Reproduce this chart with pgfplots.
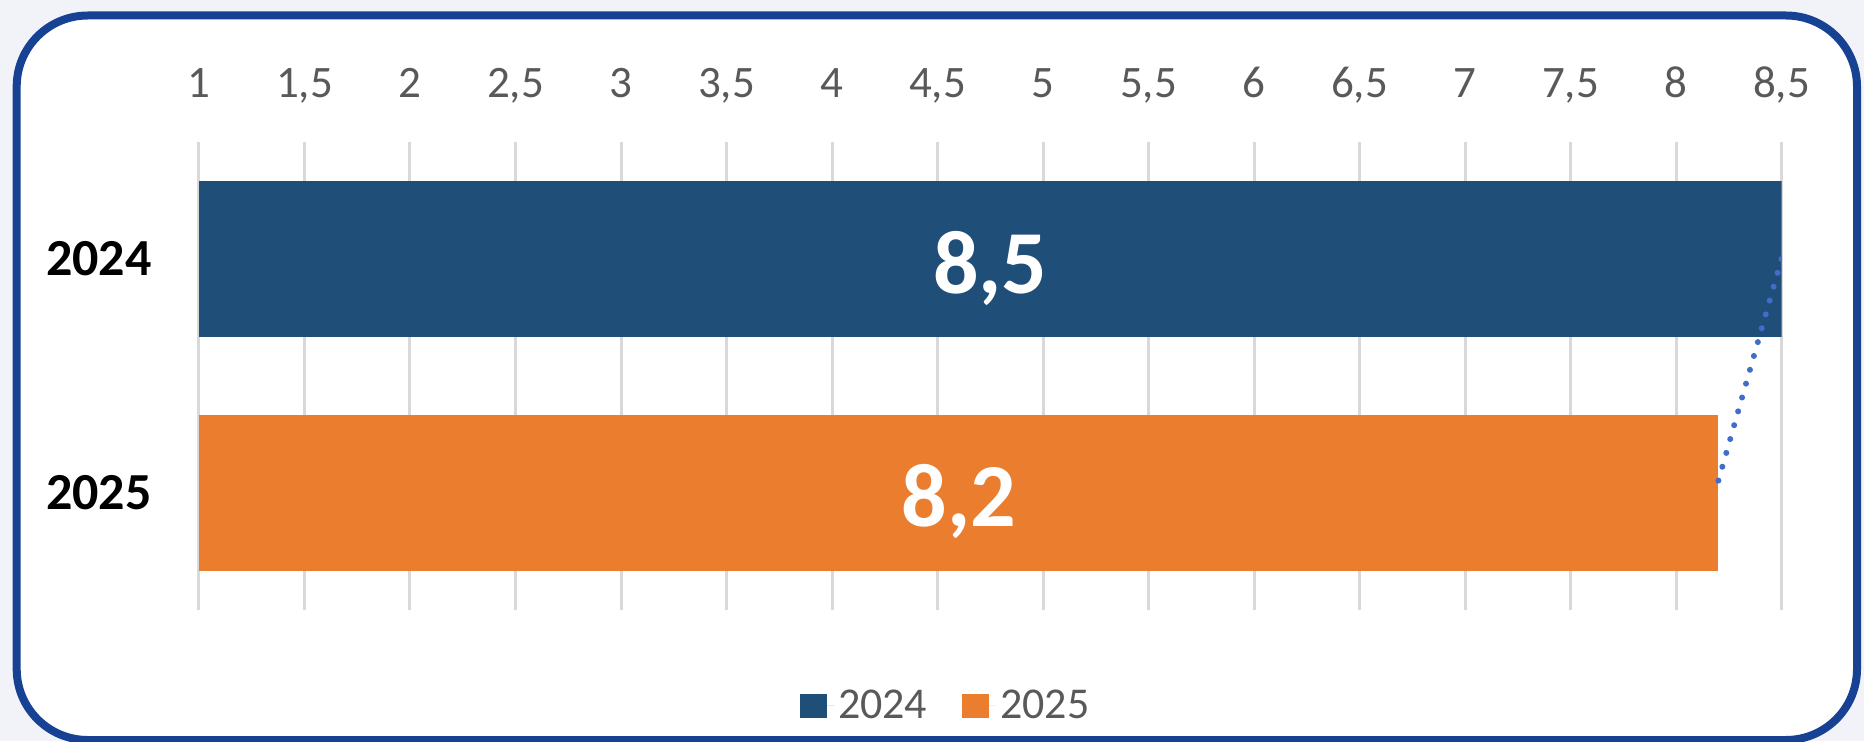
\documentclass[border=0pt]{standalone}
\usepackage{fontspec}
\setmainfont{Carlito}
\usepackage{pgfplots}
\pgfplotsset{compat=1.18}
\definecolor{bgout}{RGB}{242,243,248}
\definecolor{framec}{RGB}{23,66,147}
\definecolor{bar24}{RGB}{31,78,121}
\definecolor{bar25}{RGB}{235,125,47}
\definecolor{gridc}{RGB}{217,217,217}
\definecolor{tickc}{RGB}{89,89,89}
\definecolor{trend}{RGB}{62,110,200}
\begin{document}
\begin{tikzpicture}
\useasboundingbox (0,0) rectangle (932pt,370.5pt);
\fill[bgout] (0,0) rectangle (932pt,370.5pt);
\draw[framec, line width=4pt, fill=white, rounded corners=35.5pt] (8.35pt,0.5pt) rectangle (928.5pt,362.75pt);
\begin{axis}[
  at={(99.5pt,65.5pt)}, anchor=south west,
  scale only axis, width=791.25pt, height=234pt,
  xmin=1, xmax=8.5, ymin=-0.5, ymax=1.5,
  xtick={1,1.5,2,2.5,3,3.5,4,4.5,5,5.5,6,6.5,7,7.5,8,8.5},
  xticklabel pos=upper,
  ytick={0,1}, yticklabels={2025,2024},
  axis line style={draw=none},
  major tick length=0pt,
  xmajorgrids, grid style={gridc, line width=1.5pt},
  /pgf/number format/use comma,
  /pgf/number format/assume math mode=true,
  xticklabel style={font=\fontsize{22.5}{27}\selectfont, text=tickc, anchor=base, inner sep=0pt, yshift=22.5pt},
  yticklabel style={font=\fontsize{26}{31}\selectfont\bfseries, text=black, anchor=east, inner sep=0pt, xshift=-23.5pt},
  legend style={draw=none, fill=none, at={(0.4725,-0.205)}, anchor=center, legend columns=2,
    font=\fontsize{22}{26}\selectfont, text=tickc,
    /tikz/every even column/.append style={column sep=15.5pt}},
  legend image code/.code={\fill[#1] (0pt,-6pt) rectangle (13.5pt,6pt); \path (13.5pt,0pt) -- (17pt,0pt);},
  bar width=0.67, bar shift=0pt,
]
\addplot[xbar, fill=bar24, draw=none] coordinates {(8.5,1)};
\addplot[xbar, fill=bar25, draw=none] coordinates {(8.2,0)};
\addplot[trend, line width=3pt, line cap=round, dash pattern=on 0pt off 7.2pt, forget plot] coordinates {(8.5,1) (8.2,0.05)};
\legend{2024,2025}
\node[font=\fontsize{45}{54}\selectfont\bfseries, text=white, anchor=base, inner sep=0pt, yshift=-17pt] at (axis cs:4.75,1) {8,5};
\node[font=\fontsize{45}{54}\selectfont\bfseries, text=white, anchor=base, inner sep=0pt, yshift=-16.5pt] at (axis cs:4.6,0) {8,2};
\end{axis}
\end{tikzpicture}
\end{document}
